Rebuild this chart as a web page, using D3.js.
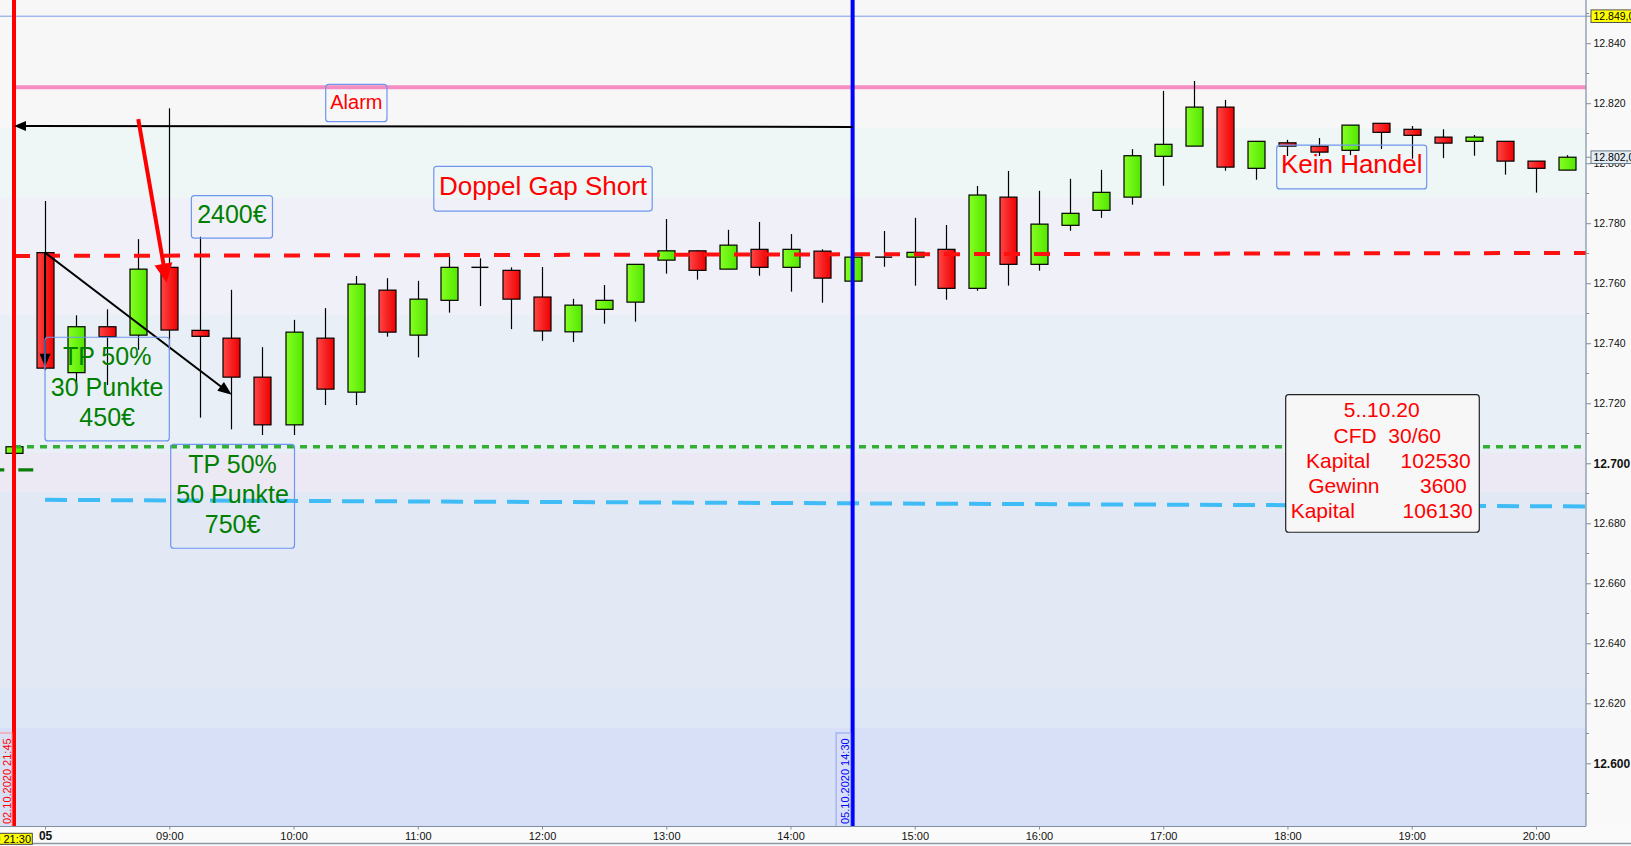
<!DOCTYPE html>
<html><head><meta charset="utf-8">
<script src="https://cdn.jsdelivr.net/npm/d3@7"></script>
<style>
html,body{margin:0;padding:0;background:#fafafa;overflow:hidden}
svg{display:block;font-family:"Liberation Sans",Arial,sans-serif}
</style></head><body>
<svg id="c" width="1631" height="846"></svg>
<script>
// ---------------- DATA ----------------
// slot 0 = 02.10.2020 21:45, slots 1..50 = 05.10.2020 08:00 .. 20:15 (15-minute candles)
const slotTimes = ["21:45"].concat(d3.range(50).map(i => {
  const m = 8 * 60 + i * 15; return String(Math.floor(m / 60)).padStart(2, "0") + ":" + String(m % 60).padStart(2, "0");
}));
const opens  = [12703.3,12770.2,12730.2,12745.5,12742.7,12765.3,12744.3,12741.7,12728.7,12712.8,12741.7,12723.7,12757.7,12742.7,12754.3,12765.3,12764.3,12755.4,12743.8,12751.3,12753.7,12767.7,12770.8,12764.7,12771.3,12765.3,12770.7,12760.7,12768.7,12768.7,12771.3,12758.3,12788.7,12766.3,12779.3,12784.3,12788.7,12802.3,12805.7,12818.7,12798.3,12806.8,12805.7,12804.3,12813.3,12811.3,12808.7,12807.3,12807.3,12800.7,12797.7];
const highs  = [12705.5,12787.4,12749.3,12751.3,12774.7,12818.3,12775.5,12757.8,12738.7,12747.8,12751.7,12762.4,12761.7,12760.8,12768.9,12768.3,12765.3,12765.4,12754.8,12759.4,12766.3,12781.4,12771.0,12777.8,12780.4,12776.4,12771.3,12769.0,12777.4,12781.8,12779.4,12792.4,12797.4,12790.8,12794.8,12797.8,12804.7,12824.1,12827.4,12821.1,12807.3,12807.8,12808.4,12812.7,12813.3,12812.4,12811.3,12809.4,12807.3,12800.7,12802.7];
const lows   = [12703.3,12731.0,12727.0,12726.1,12737.8,12737.8,12715.2,12711.3,12709.4,12709.4,12719.4,12719.4,12742.2,12735.3,12750.2,12752.4,12744.7,12740.8,12740.4,12746.5,12747.2,12763.2,12761.2,12764.7,12762.5,12757.2,12753.5,12760.5,12765.5,12759.2,12754.5,12757.5,12759.2,12764.2,12777.5,12781.8,12786.2,12792.5,12805.7,12797.5,12794.5,12802.4,12802.4,12802.7,12804.7,12801.5,12801.7,12802.5,12796.2,12790.2,12797.7];
const closes = [12705.5,12731.7,12745.5,12742.2,12764.7,12744.4,12742.3,12728.7,12712.8,12743.7,12724.7,12759.7,12743.7,12754.7,12765.3,12765.3,12754.7,12744.1,12752.7,12754.3,12766.3,12770.8,12764.3,12772.7,12765.3,12771.3,12761.7,12768.7,12768.7,12770.3,12758.3,12789.4,12766.3,12779.7,12783.3,12790.3,12802.5,12806.3,12818.7,12798.7,12807.3,12805.7,12803.7,12812.7,12810.3,12809.3,12806.7,12808.7,12800.7,12798.3,12802.0];

const xTickSlots  = [1,5,9,13,17,21,25,29,33,37,41,45,49];
const xTickLabels = ["05","09:00","10:00","11:00","12:00","13:00","14:00","15:00","16:00","17:00","18:00","19:00","20:00"];
const yTicks      = d3.range(12600, 12841, 20);
const yMinorTicks = d3.range(12590, 12851, 20);
const yBoldTicks  = [12600, 12700];

// horizontal levels (index points)
const markerLevel  = 12849.0;            // thin blue line + yellow label
const alarmLevel   = 12825.3;            // pink line
const entryLine    = [12769.1, 12770.1]; // red dashed (start, end)
const tpLevel      = 12705.5;            // green dotted
const stopLine     = [12687.8, 12685.6]; // light-blue dashed (start, end)
const prevLevel    = 12697.8;            // short dark-green dashes
const alarmArrowY  = [12812.1, 12812.4];

// vertical markers
const vMarkers = [
  {slot: 0,  label: "02.10.2020 21:45", color: "#ff0000", border: "#ff8c8c"},
  {slot: 27, label: "05.10.2020 14:30", color: "#0000ff", border: "#8ea0f0"}
];

// info box
const infoTitle  = ["5..10.20", "CFD  30/60"];
const infoLabels = ["Kapital", "Gewinn", "Kapital"];
const infoValues = [102530, 3600, 106130];

// ---------------- SCALES ----------------
const W = 1631, H = 846, plotR = 1586, plotB = 826;
const x = d3.scaleLinear().domain([0, 50]).range([14, 14 + 50 * 31.06]);
const y = d3.scaleLinear().domain([12579.1, 12854.4]).range([plotB, 0]);
const de = d3.formatLocale({decimal: ",", thousands: ".", grouping: [3], currency: ["", "€"]});
const fmtTick = de.format(",.0f"), fmtPrice = de.format(",.1f");

const svg = d3.select("#c");
const defs = svg.append("defs");
function grad(id, c1, c2) {
  const g = defs.append("linearGradient").attr("id", id).attr("x1", "0").attr("x2", "1").attr("y1", "0").attr("y2", "0");
  g.append("stop").attr("offset", "0").attr("stop-color", c1);
  g.append("stop").attr("offset", "1").attr("stop-color", c2);
}
grad("gUp", "#86ff22", "#52e600");
grad("gDn", "#ff4646", "#ee0000");
defs.append("clipPath").attr("id", "plotClip").append("rect").attr("x", 0).attr("y", 0).attr("width", plotR).attr("height", plotB);

// background
svg.append("rect").attr("width", W).attr("height", H).attr("fill", "#f9f9f9");
const bands = [[0,128,"#f7f7f7"],[128,198,"#eff6f6"],[198,315,"#f0f0f8"],[315,453,"#e9eff6"],[453,492,"#ece9f5"],[492,688,"#e3e8f5"],[688,728,"#dde7f5"],[728,826,"#d8e0f7"]];
svg.append("g").selectAll("rect").data(bands).join("rect")
  .attr("x", 0).attr("width", plotR).attr("y", d => d[0]).attr("height", d => d[1] - d[0]).attr("fill", d => d[2]);

const plot = svg.append("g").attr("clip-path", "url(#plotClip)");

// thin blue marker line
plot.append("line").attr("x1", 0).attr("x2", plotR).attr("y1", y(markerLevel)).attr("y2", y(markerLevel))
  .attr("stroke", "#7d9be8").attr("stroke-width", 1);

// pink alarm line
plot.append("line").attr("x1", x(0)).attr("x2", plotR).attr("y1", y(alarmLevel)).attr("y2", y(alarmLevel))
  .attr("stroke", "#f58cc2").attr("stroke-width", 4);

// dark green short dashes
plot.append("line").attr("x1", x(-0.795)).attr("x2", x(0.62)).attr("y1", y(prevLevel)).attr("y2", y(prevLevel))
  .attr("stroke", "#0a7d0a").attr("stroke-width", 3.2).attr("stroke-dasharray", "15,14");

// ---------------- CANDLES ----------------
const candles = d3.range(opens.length).map(i => ({i, o: opens[i], h: highs[i], l: lows[i], c: closes[i]}));
const cg = plot.append("g");
cg.selectAll("line.wick").data(candles).join("line").attr("class", "wick")
  .attr("x1", d => Math.round(x(d.i)) + 0.5).attr("x2", d => Math.round(x(d.i)) + 0.5)
  .attr("y1", d => y(d.h)).attr("y2", d => y(d.l)).attr("stroke", "#000").attr("stroke-width", 1.2);
const bw = 17;
cg.selectAll("rect.body").data(candles.filter(d => d.o !== d.c)).join("rect").attr("class", "body")
  .attr("x", d => Math.round(x(d.i)) + 0.5 - bw / 2).attr("width", bw)
  .attr("y", d => y(Math.max(d.o, d.c))).attr("height", d => Math.max(1, Math.abs(y(d.o) - y(d.c))))
  .attr("fill", d => d.c > d.o ? "url(#gUp)" : "url(#gDn)").attr("stroke", "#000").attr("stroke-width", 1.2);
cg.selectAll("line.doji").data(candles.filter(d => d.o === d.c)).join("line").attr("class", "doji")
  .attr("x1", d => x(d.i) - bw / 2).attr("x2", d => x(d.i) + bw / 2)
  .attr("y1", d => y(d.o)).attr("y2", d => y(d.o)).attr("stroke", "#000").attr("stroke-width", 1.4);

// level lines over candles
plot.append("line").attr("x1", x(0)).attr("x2", plotR).attr("y1", y(entryLine[0])).attr("y2", y(entryLine[1]))
  .attr("stroke", "#ff1010").attr("stroke-width", 4).attr("stroke-dasharray", "16,14");
plot.append("line").attr("x1", x(0)).attr("x2", plotR).attr("y1", y(tpLevel)).attr("y2", y(tpLevel))
  .attr("stroke", "#33b033").attr("stroke-width", 3.5).attr("stroke-dasharray", "7,6");
plot.append("line").attr("x1", x(1)).attr("x2", plotR).attr("y1", y(stopLine[0])).attr("y2", y(stopLine[1]))
  .attr("stroke", "#3fbcf5").attr("stroke-width", 4).attr("stroke-dasharray", "22,11");

// vertical markers
vMarkers.forEach(m => {
  plot.append("line").attr("x1", x(m.slot)).attr("x2", x(m.slot)).attr("y1", 0).attr("y2", plotB)
    .attr("stroke", m.color).attr("stroke-width", 4);
  const xl = x(m.slot) - 2;
  plot.append("rect").attr("x", xl - 14.5).attr("y", 733).attr("width", 14.5).attr("height", plotB - 733 + 2)
    .attr("fill", "none").attr("stroke", m.border).attr("stroke-width", 1);
  plot.append("text").attr("transform", `translate(${xl - 1.5},${plotB - 2}) rotate(-90)`)
    .attr("font-size", 11).attr("fill", m.color).text(m.label);
});

// ---------------- ARROWS ----------------
function arrow(x1, y1, x2, y2, color, sw, hl, hw) {
  const dx = x2 - x1, dy = y2 - y1, L = Math.hypot(dx, dy), ux = dx / L, uy = dy / L;
  const bx = x2 - ux * hl, by = y2 - uy * hl;
  plot.append("line").attr("x1", x1).attr("y1", y1).attr("x2", bx + ux * 2).attr("y2", by + uy * 2)
    .attr("stroke", color).attr("stroke-width", sw);
  plot.append("path").attr("d", `M${x2},${y2}L${bx - uy * hw},${by + ux * hw}L${bx + uy * hw},${by - ux * hw}Z`).attr("fill", color);
}
arrow(x(27), y(alarmArrowY[0]), x(0), y(alarmArrowY[1]), "#000", 2, 12, 5);
arrow(x(4.0), y(12814.7), x(4.916), y(12760.2), "#ff0000", 4, 19, 9);
arrow(x(1), y(opens[1]), x(7.01), y(12722.8), "#000", 2, 14, 5.5);
arrow(x(1), y(opens[1]), x(1), y(12732.2), "#000", 2, 13, 5.5);

// ---------------- ANNOTATION BOXES ----------------
const notes = [
  {slot: 10.035, top: 12826.3, w: 61.3, h: 37.4, fs: 20, color: "#ff0000", lines: ["Alarm"], off: 25, lh: 0},
  {slot: 13.516, top: 12798.97, w: 218.4, h: 44.8, fs: 26, color: "#ff0000", lines: ["Doppel Gap Short"], off: 29, lh: 0},
  {slot: 5.711, top: 12789.23, w: 81.1, h: 42.6, fs: 25, color: "#008000", lines: ["2400€"], off: 27.7, lh: 0},
  {slot: 0.998, top: 12742.0, w: 124.3, h: 103.7, fs: 25, color: "#008000", lines: ["TP 50%", "30 Punkte", "450€"], off: 28, lh: 30.5},
  {slot: 5.045, top: 12706.27, w: 123.8, h: 103.8, fs: 25, color: "#008000", lines: ["TP 50%", "50 Punkte", "750€"], off: 28.2, lh: 30},
  {slot: 40.654, top: 12806.0, w: 150, h: 43.7, fs: 26, color: "#ff0000", lines: ["Kein Handel"], off: 27.4, lh: 0}
];
notes.forEach(n => {
  const bx = x(n.slot), by = y(n.top);
  plot.append("rect").attr("x", bx).attr("y", by).attr("width", n.w).attr("height", n.h).attr("rx", 3)
    .attr("fill", "none").attr("stroke", "#6f96ee").attr("stroke-width", 1.2);
  n.lines.forEach((t, k) => {
    plot.append("text").attr("x", bx + n.w / 2).attr("y", by + n.off + k * n.lh).attr("text-anchor", "middle")
      .attr("font-size", n.fs).attr("fill", n.color).text(t);
  });
});

// info box
{
  const bx = x(40.943), by = y(12722.87), bwid = 193.6, bh = 137.6;
  plot.append("rect").attr("x", bx).attr("y", by).attr("width", bwid).attr("height", bh).attr("rx", 3)
    .attr("fill", "#f7f7f7").attr("stroke", "#222").attr("stroke-width", 1.2);
  const offs = [22.6, 48.6, 73.6, 98.6, 123.6];
  const cxs = [96, 101.5];
  infoTitle.forEach((t, k) => plot.append("text").attr("x", bx + cxs[k]).attr("y", by + offs[k])
    .attr("text-anchor", "middle").attr("font-size", 21).attr("fill", "#ff0000").style("white-space", "pre").text(t));
  const lx = [20.3, 22.6, 5], vx = [185, 181, 187];
  infoLabels.forEach((t, k) => {
    plot.append("text").attr("x", bx + lx[k]).attr("y", by + offs[k + 2]).attr("font-size", 21).attr("fill", "#ff0000").text(t);
    plot.append("text").attr("x", bx + vx[k]).attr("y", by + offs[k + 2]).attr("text-anchor", "end")
      .attr("font-size", 21).attr("fill", "#ff0000").text(infoValues[k]);
  });
}

// ---------------- AXES ----------------
// right axis
const axR = svg.append("g").attr("transform", `translate(${plotR},0)`);
axR.append("line").attr("x1", 0).attr("x2", 0).attr("y1", 0).attr("y2", plotB).attr("stroke", "#7f8fa0").attr("stroke-width", 1.2);
axR.selectAll("line.minor").data(yMinorTicks).join("line").attr("class", "minor")
  .attr("x1", 0).attr("x2", 3).attr("y1", d => Math.round(y(d)) + 0.5).attr("y2", d => Math.round(y(d)) + 0.5).attr("stroke", "#7f8fa0");
const yAxis = d3.axisRight(y).tickValues(yTicks).tickSize(5).tickPadding(3).tickFormat(fmtTick);
const ya = axR.append("g").call(yAxis);
ya.select(".domain").remove();
ya.selectAll(".tick line").attr("stroke", "#7f8fa0");
ya.selectAll(".tick text").attr("x", 7.5).attr("fill", "#111")
  .attr("font-family", "Liberation Sans, Arial, sans-serif")
  .attr("font-size", d => yBoldTicks.includes(d) ? 12 : 10.5)
  .attr("font-weight", d => yBoldTicks.includes(d) ? "bold" : "normal");

// price boxes on the right axis
function priceBox(v, fill, stroke) {
  const yy = y(v);
  axR.append("line").attr("x1", 0).attr("x2", 5).attr("y1", yy).attr("y2", yy).attr("stroke", "#7f8fa0");
  axR.append("rect").attr("x", 5).attr("y", yy - 6.3).attr("width", 60).attr("height", 12.6)
    .attr("fill", fill).attr("stroke", stroke).attr("stroke-width", 1);
  axR.append("text").attr("x", 7.5).attr("y", yy).attr("dy", "0.35em").attr("font-size", 10.5).attr("fill", "#000").text(fmtPrice(v));
}
priceBox(markerLevel, "#ffff00", "#555");
priceBox(closes[closes.length - 1], "#e4ecf4", "#6a7a8a");

// bottom axis
const axB = svg.append("g").attr("transform", `translate(0,${plotB})`);
axB.append("rect").attr("x", 0).attr("y", 0).attr("width", W).attr("height", H - plotB).attr("fill", "#fafafa");
axB.append("line").attr("x1", 0).attr("x2", plotR).attr("y1", 0.5).attr("y2", 0.5).attr("stroke", "#7f8fa0").attr("stroke-width", 1.2);
axB.append("line").attr("x1", 0).attr("x2", W).attr("y1", 17.5).attr("y2", 17.5).attr("stroke", "#8a98a6").attr("stroke-width", 1.5);
const xAxis = d3.axisBottom(x).tickValues(xTickSlots).tickSize(3.5).tickFormat((d, i) => xTickLabels[i]);
const xa = axB.append("g").call(xAxis);
xa.select(".domain").remove();
xa.selectAll(".tick line").attr("stroke", "#7f8fa0");
xa.selectAll(".tick text").attr("y", 14).attr("dy", 0).attr("fill", "#111")
  .attr("font-family", "Liberation Sans, Arial, sans-serif")
  .attr("font-size", (d, i) => i === 0 ? 12 : 11)
  .attr("font-weight", (d, i) => i === 0 ? "bold" : "normal");

// yellow time label at the left
axB.append("rect").attr("x", -70).attr("y", 7.3).attr("width", 102.3).attr("height", 11).attr("fill", "#ffff00").attr("stroke", "#444");
axB.append("text").attr("x", 31).attr("y", 16.6).attr("text-anchor", "end").attr("font-size", 11).attr("fill", "#000")
  .text("02.10.2020 " + "21:30");
</script>
</body></html>
